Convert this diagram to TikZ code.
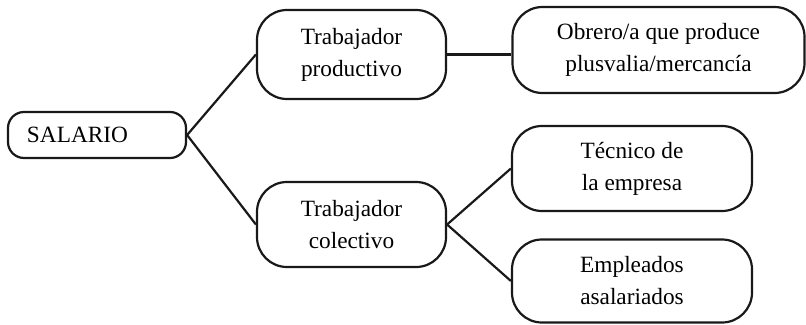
\documentclass[tikz,border=0pt]{standalone}
\usepackage{fontspec}
\setmainfont{Liberation Serif}
\begin{document}
\begin{tikzpicture}[x=1bp,y=-1bp,
  box/.style={draw=black!90, line width=2.2bp, rounded corners=30bp, align=center, inner sep=0pt,
    font=\fontsize{23.3bp}{32bp}\selectfont, text=black},
  conn/.style={draw=black!90, line width=2.2bp}]
\useasboundingbox (0,0) rectangle (806,324);
\node[box, rounded corners=16bp, minimum width=178bp, minimum height=46bp, text width=140bp, inner xsep=19bp, align=left] (sal) at (97,135) {SALARIO};
\node[box, minimum width=189bp, minimum height=89bp] (prod) at (351.5,54.5) {Trabajador\\productivo};
\node[box, minimum width=189bp, minimum height=85bp] (col) at (351.5,224.5) {Trabajador\\colectivo};
\node[box, minimum width=292bp, minimum height=86bp] (obr) at (658.5,50) {Obrero/a que produce\\plusvalia/mercancía};
\node[box, minimum width=240bp, minimum height=85bp] (tec) at (632,168.5) {Técnico de\\la empresa};
\node[box, minimum width=240bp, minimum height=83bp] (emp) at (632,281) {Empleados\\asalariados};
\draw[conn] (sal.east) -- (prod.west);
\draw[conn] (sal.east) -- (col.west);
\draw[conn] (prod.east) -- (prod.east -| obr.west);
\draw[conn] (col.east) -- (tec.west);
\draw[conn] (col.east) -- (emp.west);
\end{tikzpicture}
\end{document}
